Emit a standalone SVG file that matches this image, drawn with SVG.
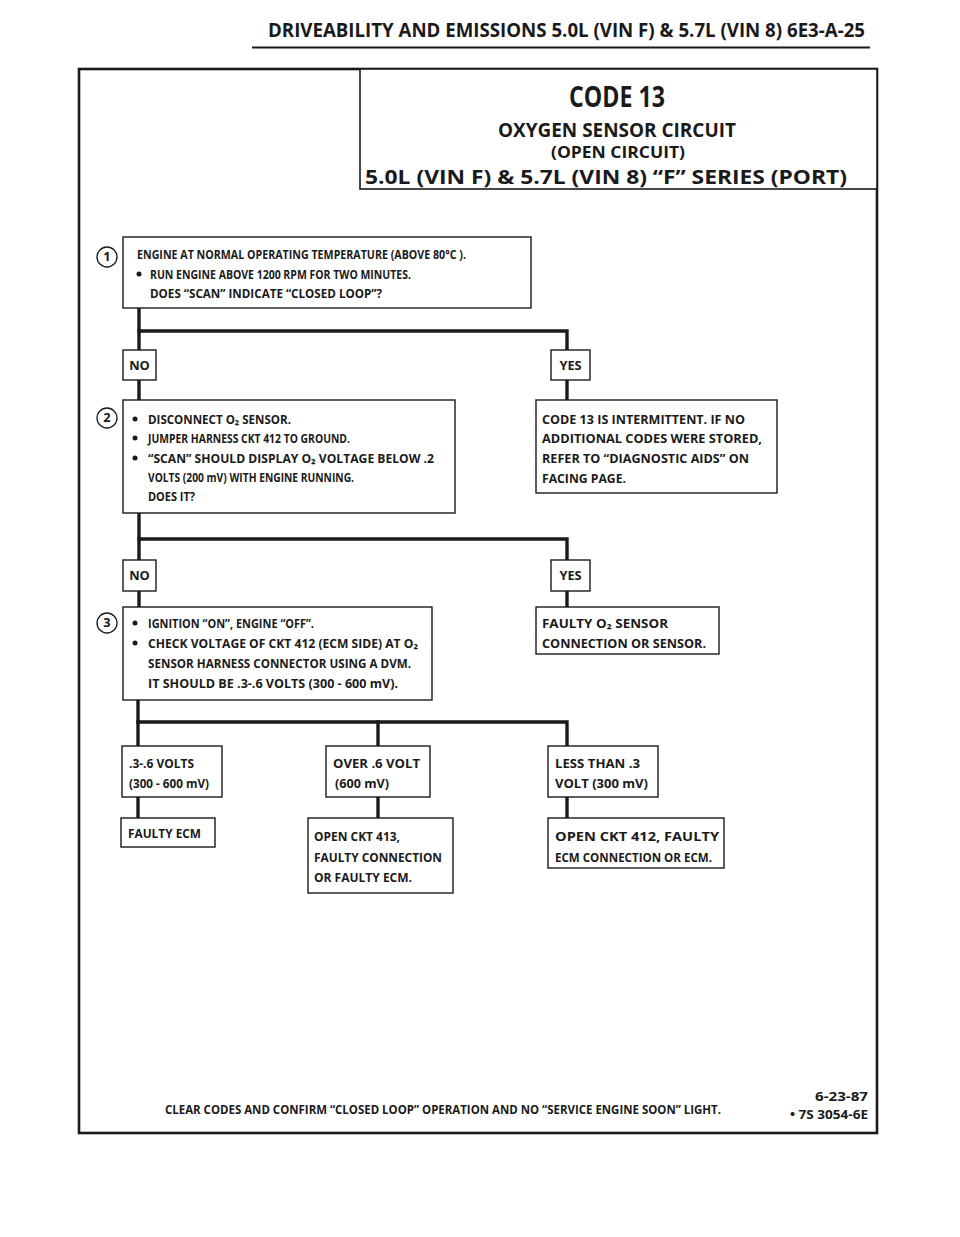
<svg xmlns="http://www.w3.org/2000/svg" width="960" height="1237" viewBox="0 0 960 1237">
<style>
.t{font-family:"Open Sans","Noto Sans","Liberation Sans",sans-serif;font-weight:700;font-size:12.8px;fill:#1a1a1a}
.box{fill:#fff;stroke:#1a1a1a;stroke-width:1.4}
.frame{fill:none;stroke:#1a1a1a;stroke-width:2.6}
.c{fill:none;stroke:#1a1a1a;stroke-width:3.4;stroke-linejoin:miter;stroke-linecap:square}
.num{fill:#fff;stroke:#1a1a1a;stroke-width:1.3}
.b{fill:#1a1a1a}
.h{font-family:"Open Sans","Liberation Sans",sans-serif;font-weight:700;fill:#1a1a1a}
</style>
<rect width="960" height="1237" fill="#fff"/>

<g id="header">
<text class="h" x="268" y="37" font-size="20" textLength="597" lengthAdjust="spacingAndGlyphs">DRIVEABILITY  AND  EMISSIONS 5.0L (VIN F)  &amp;  5.7L (VIN 8)  6E3-A-25</text>
<line x1="252" y1="47.5" x2="870" y2="47.5" stroke="#1a1a1a" stroke-width="2"/>
</g>

<g id="frame">
<rect class="frame" x="79" y="69" width="798" height="1064"/>
</g>

<g id="title">
<rect class="box" x="360" y="69" width="517" height="120" style="stroke-width:1.6"/>
<text class="h" x="617" y="107" font-size="29" font-weight="600" text-anchor="middle" textLength="96" lengthAdjust="spacingAndGlyphs">CODE 13</text>
<text class="h" x="617" y="137" font-size="19" font-weight="600" text-anchor="middle" textLength="238" lengthAdjust="spacingAndGlyphs">OXYGEN SENSOR CIRCUIT</text>
<text class="h" x="618" y="158" font-size="16" font-weight="600" text-anchor="middle" textLength="134" lengthAdjust="spacingAndGlyphs">(OPEN CIRCUIT)</text>
<text class="h" x="606" y="184" font-size="20" font-weight="600" text-anchor="middle" textLength="482" lengthAdjust="spacingAndGlyphs">5.0L  (VIN F)  &amp;  5.7L (VIN 8)   “F”  SERIES  (PORT)</text>
</g>

<g id="connectors">
<polyline class="c" points="139,308 139,350"/>
<polyline class="c" points="139,331 567,331 567,350"/>
<polyline class="c" points="139,380 139,400"/>
<polyline class="c" points="567,380 567,400"/>
<polyline class="c" points="139,513 139,560"/>
<polyline class="c" points="139,539 567,539 567,560"/>
<polyline class="c" points="139,591 139,607"/>
<polyline class="c" points="567,591 567,607"/>
<polyline class="c" points="138,700 138,746"/>
<polyline class="c" points="138,722 567,722 567,746"/>
<polyline class="c" points="378,722 378,746"/>
<polyline class="c" points="138,797 138,818"/>
<polyline class="c" points="378,797 378,818"/>
<polyline class="c" points="567,797 567,818"/>
</g>

<g id="step1">
<circle class="num" cx="107" cy="257" r="10"/>
<text class="t" x="107" y="261" font-size="11" text-anchor="middle">1</text>
<rect class="box" x="123" y="237" width="408" height="71"/>
<text class="t" x="137" y="259" textLength="329" lengthAdjust="spacingAndGlyphs">ENGINE AT NORMAL OPERATING TEMPERATURE (ABOVE 80°C ).</text>
<circle class="b" cx="139" cy="274" r="2.5"/>
<text class="t" x="150" y="279" textLength="261" lengthAdjust="spacingAndGlyphs">RUN ENGINE ABOVE 1200 RPM FOR TWO MINUTES.</text>
<text class="t" x="150" y="298" textLength="232" lengthAdjust="spacingAndGlyphs">DOES “SCAN” INDICATE “CLOSED LOOP”?</text>
</g>

<g id="no1">
<rect class="box" x="123" y="350" width="33" height="30"/>
<text class="t" x="139.5" y="370" font-size="11.5" text-anchor="middle">NO</text>
</g>
<g id="yes1">
<rect class="box" x="551" y="350" width="39" height="30"/>
<text class="t" x="570.5" y="370" font-size="11.5" text-anchor="middle">YES</text>
</g>

<g id="step2">
<circle class="num" cx="107" cy="418" r="10"/>
<text class="t" x="107" y="422" font-size="11" text-anchor="middle">2</text>
<rect class="box" x="123" y="400" width="332" height="113"/>
<circle class="b" cx="135" cy="419" r="2.5"/>
<text class="t" x="148" y="424" textLength="143" lengthAdjust="spacingAndGlyphs">DISCONNECT O₂ SENSOR.</text>
<circle class="b" cx="135" cy="438" r="2.5"/>
<text class="t" x="148" y="443" textLength="202" lengthAdjust="spacingAndGlyphs">JUMPER HARNESS CKT 412 TO GROUND.</text>
<circle class="b" cx="135" cy="458" r="2.5"/>
<text class="t" x="148" y="463" textLength="286" lengthAdjust="spacingAndGlyphs">“SCAN”  SHOULD DISPLAY O₂ VOLTAGE BELOW .2</text>
<text class="t" x="148" y="482" textLength="206" lengthAdjust="spacingAndGlyphs">VOLTS  (200 mV) WITH ENGINE RUNNING.</text>
<text class="t" x="148" y="501" textLength="47" lengthAdjust="spacingAndGlyphs">DOES IT?</text>
</g>

<g id="intermittent">
<rect class="box" x="536" y="400" width="241" height="93"/>
<text class="t" x="542" y="424" textLength="203" lengthAdjust="spacingAndGlyphs">CODE 13 IS INTERMITTENT.  IF NO</text>
<text class="t" x="542" y="443" textLength="220" lengthAdjust="spacingAndGlyphs">ADDITIONAL CODES WERE STORED,</text>
<text class="t" x="542" y="463" textLength="207" lengthAdjust="spacingAndGlyphs">REFER TO  “DIAGNOSTIC AIDS” ON</text>
<text class="t" x="542" y="483" textLength="84" lengthAdjust="spacingAndGlyphs">FACING PAGE.</text>
</g>

<g id="no2">
<rect class="box" x="123" y="560" width="33" height="31"/>
<text class="t" x="139.5" y="580" font-size="11.5" text-anchor="middle">NO</text>
</g>
<g id="yes2">
<rect class="box" x="551" y="560" width="39" height="31"/>
<text class="t" x="570.5" y="580" font-size="11.5" text-anchor="middle">YES</text>
</g>

<g id="step3">
<circle class="num" cx="107" cy="623" r="10"/>
<text class="t" x="107" y="627" font-size="11" text-anchor="middle">3</text>
<rect class="box" x="123" y="607" width="309" height="93"/>
<circle class="b" cx="135" cy="623" r="2.5"/>
<text class="t" x="148" y="628" textLength="166" lengthAdjust="spacingAndGlyphs">IGNITION “ON”,  ENGINE  “OFF”.</text>
<circle class="b" cx="135" cy="643" r="2.5"/>
<text class="t" x="148" y="648" textLength="270" lengthAdjust="spacingAndGlyphs">CHECK VOLTAGE OF CKT 412 (ECM SIDE) AT O₂</text>
<text class="t" x="148" y="668" textLength="263" lengthAdjust="spacingAndGlyphs">SENSOR HARNESS CONNECTOR USING A DVM.</text>
<text class="t" x="148" y="688" textLength="250" lengthAdjust="spacingAndGlyphs">IT SHOULD BE  .3-.6 VOLTS (300 - 600 mV).</text>
</g>

<g id="faultyo2">
<rect class="box" x="536" y="607" width="183" height="47"/>
<text class="t" x="542" y="628" textLength="126" lengthAdjust="spacingAndGlyphs">FAULTY O₂ SENSOR</text>
<text class="t" x="542" y="648" textLength="164" lengthAdjust="spacingAndGlyphs">CONNECTION OR SENSOR.</text>
</g>

<g id="r-normal">
<rect class="box" x="122" y="746" width="100" height="51"/>
<text class="t" x="129" y="768" textLength="65" lengthAdjust="spacingAndGlyphs">.3-.6 VOLTS</text>
<text class="t" x="129" y="788" textLength="80" lengthAdjust="spacingAndGlyphs">(300 - 600 mV)</text>
</g>
<g id="r-over">
<rect class="box" x="326" y="746" width="104" height="51"/>
<text class="t" x="333" y="768" textLength="87" lengthAdjust="spacingAndGlyphs">OVER  .6  VOLT</text>
<text class="t" x="335" y="788" textLength="54" lengthAdjust="spacingAndGlyphs">(600 mV)</text>
</g>
<g id="r-less">
<rect class="box" x="548" y="746" width="110" height="51"/>
<text class="t" x="555" y="768" textLength="85" lengthAdjust="spacingAndGlyphs">LESS THAN .3</text>
<text class="t" x="555" y="788" textLength="93" lengthAdjust="spacingAndGlyphs">VOLT  (300 mV)</text>
</g>

<g id="faultyecm">
<rect class="box" x="121" y="818" width="94" height="29"/>
<text class="t" x="128" y="838" textLength="73" lengthAdjust="spacingAndGlyphs">FAULTY ECM</text>
</g>
<g id="open413">
<rect class="box" x="308" y="818" width="145" height="75"/>
<text class="t" x="314" y="841" textLength="86" lengthAdjust="spacingAndGlyphs">OPEN CKT 413,</text>
<text class="t" x="314" y="862" textLength="128" lengthAdjust="spacingAndGlyphs">FAULTY CONNECTION</text>
<text class="t" x="314" y="882" textLength="98" lengthAdjust="spacingAndGlyphs">OR FAULTY ECM.</text>
</g>
<g id="open412">
<rect class="box" x="548" y="818" width="176" height="50"/>
<text class="t" x="555" y="841" textLength="164" lengthAdjust="spacingAndGlyphs">OPEN CKT  412, FAULTY</text>
<text class="t" x="555" y="862" textLength="157" lengthAdjust="spacingAndGlyphs">ECM CONNECTION OR ECM.</text>
</g>

<g id="footer">
<text class="t" x="165" y="1114" font-size="11.5" font-weight="600" textLength="556" lengthAdjust="spacingAndGlyphs">CLEAR CODES AND CONFIRM “CLOSED LOOP”  OPERATION AND NO “SERVICE ENGINE SOON” LIGHT.</text>
<text class="t" x="868" y="1101" font-size="11.5" font-weight="600" text-anchor="end" textLength="53" lengthAdjust="spacingAndGlyphs">6-23-87</text>
<text class="t" x="868" y="1119" font-size="11.5" font-weight="600" text-anchor="end" textLength="78" lengthAdjust="spacingAndGlyphs">• 7S 3054-6E</text>
</g>
</svg>
